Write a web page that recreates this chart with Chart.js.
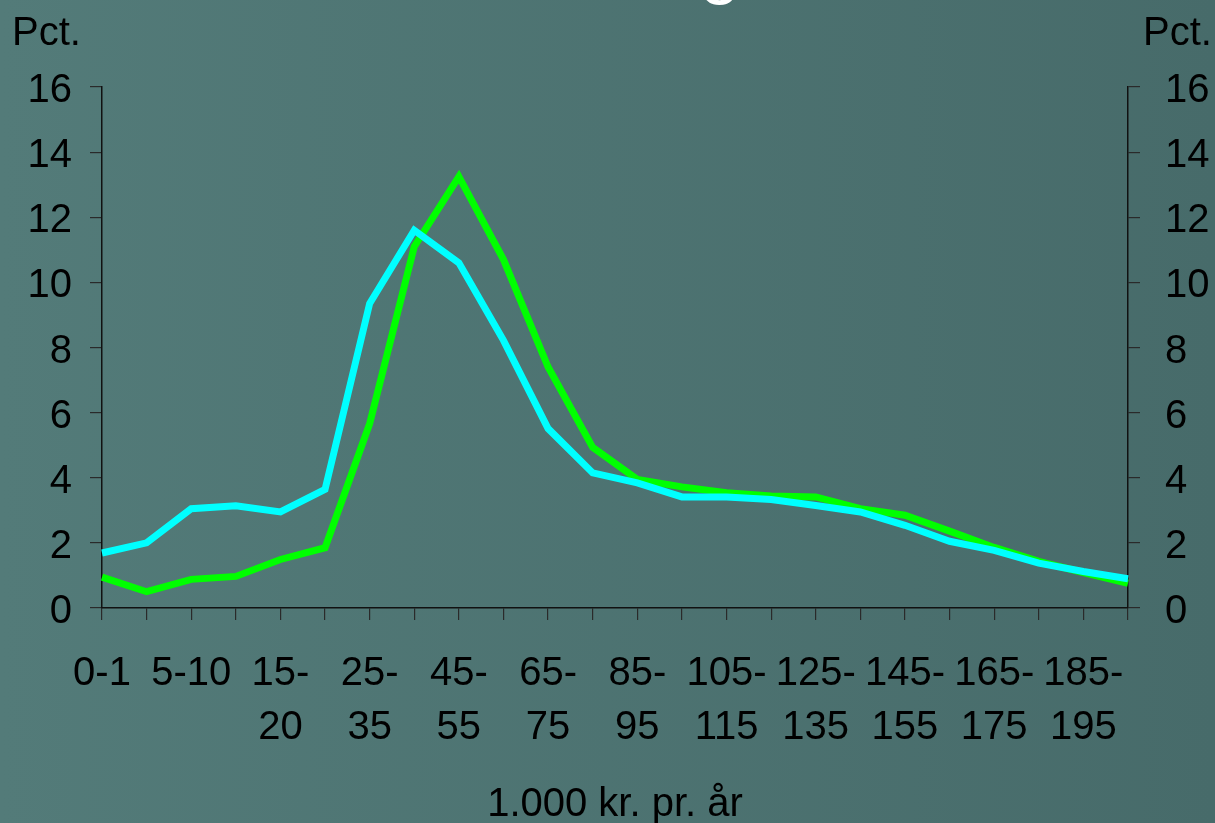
<!DOCTYPE html>
<html>
<head>
<meta charset="utf-8">
<title>Pct.</title>
<script src="https://cdn.jsdelivr.net/npm/chart.js@4.4.1/dist/chart.umd.min.js"></script>
<style>
  html, body { margin: 0; padding: 0; }
  body {
    width: 1215px;
    height: 823px;
    overflow: hidden;
    background: linear-gradient(to right, #537b79, #476b6a);
  }
  #wrap { position: relative; width: 1215px; height: 823px; }
</style>
</head>
<body>
<div id="wrap"><canvas id="myChart"></canvas></div>
<script>
const categories = ["0-1", "1-5", "5-10", "10-15", "15-20", "20-25", "25-35", "35-45",
  "45-55", "55-65", "65-75", "75-85", "85-95", "95-105", "105-115", "115-125",
  "125-135", "135-145", "145-155", "155-165", "165-175", "175-185", "185-195", "195-"];
const greenValues = [0.95, 0.5, 0.88, 0.97, 1.49, 1.85, 5.66, 11.1, 13.25, 10.7, 7.4, 4.93,
  3.95, 3.72, 3.54, 3.44, 3.41, 3.05, 2.85, 2.36, 1.86, 1.43, 1.09, 0.76];
const cyanValues = [1.69, 2.0, 3.05, 3.14, 2.95, 3.64, 9.35, 11.6, 10.6, 8.22, 5.51, 4.15,
  3.84, 3.41, 3.41, 3.33, 3.15, 2.95, 2.54, 2.05, 1.77, 1.38, 1.12, 0.9];
const yMin = 0;
const yMax = 16;
const yStep = 2;
const unitLabel = "Pct.";
const xTitle = "1.000 kr. pr. år";
const titleTail = "g";

const fontFamily = '"Liberation Sans", Arial, Helvetica, sans-serif';
Chart.defaults.font.family = fontFamily;
Chart.defaults.color = "#000";

// draws the "Pct." captions over both axes and the bit of slide title cut by the top edge
const cornerText = {
  id: "cornerText",
  afterDraw(chart) {
    const c = chart.ctx;
    const area = chart.chartArea;
    c.save();
    c.fillStyle = "#000";
    c.font = "40px " + fontFamily;
    c.textAlign = "left";
    c.textBaseline = "alphabetic";
    c.fillText(unitLabel, area.left - 90, 45);
    c.fillText(unitLabel, area.right + 15, 45);
    c.fillStyle = "#fff";
    c.font = "72px " + fontFamily;
    c.textAlign = "center";
    c.fillText(titleTail, 720, -10);
    c.restore();
  }
};

const axisGrid = {
  drawOnChartArea: false,
  tickLength: 12,
  color: "#2a2a2a",
  lineWidth: 1.2
};
const axisBorder = { color: "#111", width: 1.5 };

const ctx = document.getElementById("myChart").getContext("2d");
const myChart = new Chart(ctx, {
  type: "line",
  data: {
    labels: categories,
    datasets: [
      {
        label: "green",
        data: greenValues,
        borderColor: "#00ff00",
        borderWidth: 7,
        pointRadius: 0,
        tension: 0,
        order: 1
      },
      {
        label: "cyan",
        data: cyanValues,
        borderColor: "#00ffff",
        borderWidth: 7,
        pointRadius: 0,
        tension: 0,
        order: 0
      }
    ]
  },
  plugins: [cornerText],
  options: {
    responsive: true,
    maintainAspectRatio: false,
    animation: false,
    devicePixelRatio: 1,
    layout: { padding: { left: 0, right: 0, top: 87, bottom: 0 } },
    plugins: {
      legend: { display: false },
      tooltip: { enabled: false }
    },
    scales: {
      x: {
        offset: false,
        grid: axisGrid,
        border: axisBorder,
        afterFit: (scale) => { scale.height = 215; },
        ticks: {
          autoSkip: false,
          maxRotation: 0,
          padding: 27,
          font: { size: 40, lineHeight: 1.35 },
          callback: function (value, index) {
            if (index % 2 === 1) return "";
            const lab = categories[index];
            if (lab.length > 4) {
              const cut = lab.indexOf("-") + 1;
              return [lab.slice(0, cut), lab.slice(cut)];
            }
            return lab;
          }
        },
        title: {
          display: true,
          text: xTitle,
          font: { size: 40, lineHeight: 0.8 },
          padding: { top: 10, bottom: 2 }
        }
      },
      y: {
        position: "left",
        min: yMin,
        max: yMax,
        grid: axisGrid,
        border: axisBorder,
        afterFit: (scale) => { scale.width = 102; },
        ticks: { stepSize: yStep, padding: 18, labelOffset: 4, font: { size: 40 } }
      },
      y1: {
        position: "right",
        min: yMin,
        max: yMax,
        grid: axisGrid,
        border: axisBorder,
        afterFit: (scale) => { scale.width = 87; },
        ticks: { stepSize: yStep, padding: 25, labelOffset: 4, font: { size: 40 } }
      }
    }
  }
});
</script>
</body>
</html>
